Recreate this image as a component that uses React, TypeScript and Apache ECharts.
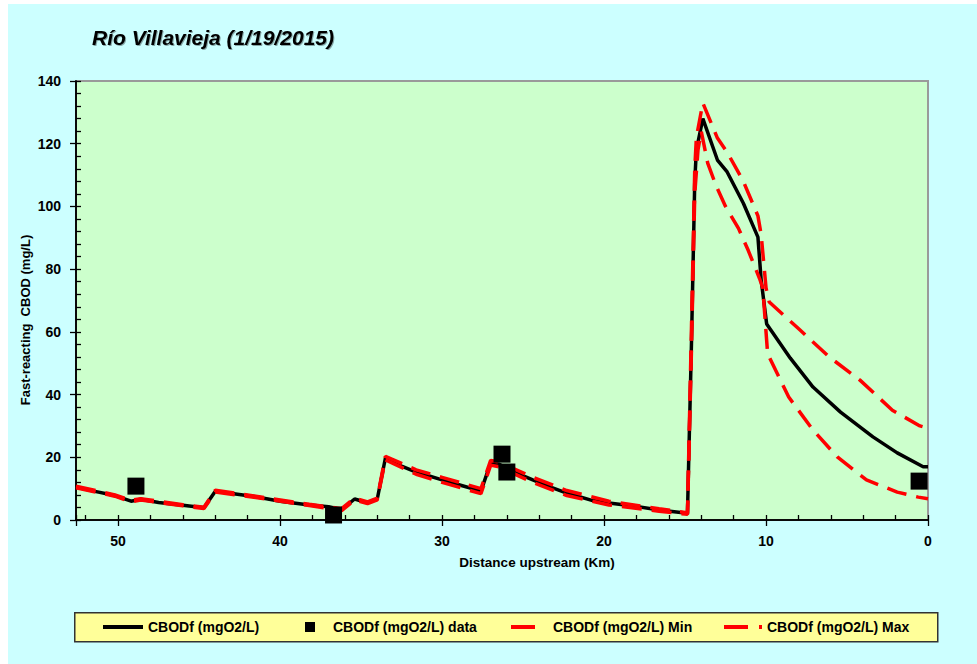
import React, { useEffect, useRef } from "react";
import * as echarts from "echarts";

// Distance upstream (km) and fast-reacting CBOD (mg/L)
const cbodModel: [number, number][] = [
  [52.6, 10.5], [51.5, 9.2], [50.2, 7.8], [49.2, 6.0], [48.6, 6.6], [47.5, 5.6], [46.0, 4.7],
  [44.7, 3.9], [44.0, 9.2], [43.2, 8.6], [41.5, 7.4], [40.0, 6.0], [38.2, 4.8], [37.0, 4.2],
  [36.2, 3.3], [35.4, 6.7], [34.6, 5.5], [34.0, 6.7], [33.5, 19.7], [32.5, 17.2], [31.6, 15.3],
  [30.0, 12.8], [28.8, 11.0], [27.6, 9.2], [27.0, 18.2], [26.5, 17.8], [25.5, 15.2], [24.4, 12.8],
  [23.3, 10.5], [22.3, 8.6], [20.7, 6.2], [19.7, 5.4], [18.2, 4.5], [16.6, 3.2], [15.0, 2.2],
  [14.85, 2.0], [14.6, 57], [14.4, 108], [14.3, 118], [13.9, 128], [13.0, 114.8], [12.4, 111],
  [11.4, 101], [10.5, 90.2], [10.3, 76.5], [9.96, 62.5], [8.5, 51.6], [7.1, 42.4], [5.4, 34.4],
  [3.4, 26.5], [1.9, 21.4], [0.3, 17.0], [0.0, 17.0],
];

const cbodData: [number, number][] = [
  [48.9, 10.8], [36.7, 1.6], [26.3, 21.0], [26.0, 15.3], [0.55, 12.4],
];

const cbodMin: [number, number][] = [
  [52.6, 10.3], [50.2, 7.6], [49.2, 5.8], [48.6, 6.4], [46.0, 4.5], [44.7, 3.7], [44.0, 8.9],
  [41.5, 7.2], [38.2, 4.6], [36.2, 3.0], [35.4, 6.4], [34.6, 5.2], [34.0, 6.4], [33.5, 19.2],
  [31.6, 14.6], [30.0, 12.0], [27.6, 8.4], [27.0, 17.5], [26.5, 17.0], [24.4, 12.0], [22.3, 7.8],
  [19.7, 4.8], [16.6, 2.8], [15.0, 1.9], [14.85, 1.8], [14.6, 55], [14.4, 104], [14.2, 118],
  [14.0, 124], [13.6, 113.8], [13.1, 106.8], [12.5, 100], [11.7, 93], [11.1, 86], [10.4, 77],
  [10.2, 74], [9.9, 53], [8.6, 39.2], [7.1, 28.7], [5.6, 20.1], [3.8, 12.8], [1.9, 8.9],
  [0.6, 7.3], [0.0, 6.8],
];

const cbodMax: [number, number][] = [
  [52.6, 10.8], [50.2, 8.0], [49.2, 6.3], [48.6, 6.8], [46.0, 4.9], [44.7, 4.1], [44.0, 9.5],
  [41.5, 7.6], [38.2, 5.0], [36.2, 3.6], [35.4, 7.0], [34.6, 5.8], [34.0, 7.0], [33.5, 20.3],
  [31.6, 16.0], [30.0, 13.6], [27.6, 10.0], [27.0, 19.0], [26.5, 18.5], [24.4, 13.6], [22.3, 9.4],
  [19.7, 6.0], [16.6, 3.6], [15.0, 2.4], [14.85, 2.2], [14.6, 62], [14.4, 112], [14.3, 122],
  [13.9, 133], [13.0, 121.8], [12.4, 117.3], [11.4, 108], [10.5, 97], [10.3, 91], [10.0, 74],
  [9.8, 69.5], [7.9, 60.6], [6.1, 52], [4.2, 44.6], [2.2, 35], [0.5, 30], [0.0, 29.3],
];

const seriesNames = [
  "CBODf (mgO2/L)",
  "CBODf (mgO2/L) data",
  "CBODf (mgO2/L) Min",
  "CBODf (mgO2/L) Max",
];

const titleText = "Río Villavieja (1/19/2015)";
const xAxisName = "Distance upstream (Km)";
const yAxisName = "Fast-reacting  CBOD (mg/L)";

const FONT = "'Liberation Sans', Arial, sans-serif";

export default function App() {
  const ref = useRef<HTMLDivElement>(null);

  useEffect(() => {
    if (!ref.current) return;
    const chart = echarts.init(ref.current, undefined, { renderer: "svg" });
    const xMin = 0;
    const xMax = 52.6;
    const legendText = {
      color: "#000",
      fontFamily: FONT,
      fontWeight: "bold" as const,
      fontSize: 14,
    };
    const legendBase = {
      orient: "horizontal" as const,
      top: 616,
      padding: 0,
      itemGap: 0,
      selectedMode: false,
      itemStyle: { borderWidth: 0 },
    };
    const tickStyle = { color: "#000", width: 1.3 };
    chart.setOption({
      animation: false,
      backgroundColor: "#CCFFFF",
      textStyle: { fontFamily: FONT },
      title: {
        text: titleText,
        left: 84,
        top: 23,
        padding: 0,
        textStyle: {
          fontFamily: FONT,
          fontSize: 21,
          fontWeight: "bold",
          fontStyle: "italic",
          color: "#000",
          textShadowColor: "rgba(0,0,0,0.35)",
          textShadowOffsetX: 1,
          textShadowOffsetY: 1,
          textShadowBlur: 1,
        },
      },
      grid: {
        left: 68,
        top: 77,
        right: 49,
        bottom: 144,
        show: true,
        z: -1,
        backgroundColor: "#CCFFCC",
        borderColor: "#9a9a9a",
        borderWidth: 2,
      },
      xAxis: [
        {
          type: "value",
          inverse: true,
          min: xMin,
          max: xMax,
          interval: 10,
          position: "bottom",
          z: 3,
          axisLine: { show: true, onZero: false, lineStyle: { color: "#000", width: 1.5 } },
          axisTick: { show: true, inside: false, length: 6, lineStyle: tickStyle },
          axisLabel: {
            color: "#000",
            fontFamily: FONT,
            fontWeight: "bold",
            fontSize: 14,
            margin: 14,
            formatter: (v: number) => (Math.abs(v % 10) < 1e-9 ? String(v) : ""),
          },
          splitLine: { show: false },
        },
        {
          type: "value",
          inverse: true,
          min: xMin,
          max: xMax,
          interval: 2,
          position: "bottom",
          offset: 0,
          z: 3,
          axisLine: { show: true, onZero: false, lineStyle: { color: "#000", width: 1.5 } },
          axisTick: { show: true, inside: true, length: 5, lineStyle: tickStyle },
          axisLabel: { show: false },
          splitLine: { show: false },
        },
      ],
      yAxis: [
        {
          type: "value",
          min: 0,
          max: 140,
          interval: 20,
          position: "left",
          z: 3,
          axisLine: { show: true, onZero: false, lineStyle: { color: "#000", width: 1.5 } },
          axisTick: { show: true, inside: false, length: 6, lineStyle: tickStyle },
          axisLabel: {
            color: "#000",
            fontFamily: FONT,
            fontWeight: "bold",
            fontSize: 14,
            margin: 15,
          },
          splitLine: { show: false },
        },
        {
          type: "value",
          min: 0,
          max: 140,
          interval: 4,
          position: "left",
          offset: 0,
          z: 3,
          axisLine: { show: true, onZero: false, lineStyle: { color: "#000", width: 1.5 } },
          axisTick: { show: true, inside: true, length: 5, lineStyle: tickStyle },
          axisLabel: { show: false },
          splitLine: { show: false },
        },
      ],
      legend: [
        {
          ...legendBase,
          left: 95,
          itemWidth: 40,
          itemHeight: 4,
          data: [{ name: seriesNames[0], icon: "rect" }],
          textStyle: { ...legendText },
        },
        {
          ...legendBase,
          left: 297,
          itemWidth: 10,
          itemHeight: 10,
          data: [{ name: seriesNames[1], icon: "rect" }],
          textStyle: { ...legendText, padding: [0, 0, 0, 13] },
        },
        {
          ...legendBase,
          left: 503,
          itemWidth: 24,
          itemHeight: 4,
          data: [{ name: seriesNames[2], icon: "rect" }],
          textStyle: { ...legendText, padding: [0, 0, 0, 13] },
        },
        {
          ...legendBase,
          left: 716,
          itemWidth: 38,
          itemHeight: 4,
          data: [{ name: seriesNames[3], icon: "path://M0,0h24v4h-24zM35,0h3v4h-3z" }],
          textStyle: { ...legendText },
        },
      ],
      graphic: [
        {
          type: "rect",
          left: 66,
          top: 608,
          z: -10,
          shape: { width: 863, height: 29 },
          style: { fill: "#FFFF99", stroke: "#333", lineWidth: 1.5 },
        },
        {
          type: "text",
          x: 529,
          y: 558,
          style: {
            text: xAxisName,
            fill: "#000",
            font: `bold 13.5px ${FONT}`,
            textAlign: "center",
            textVerticalAlign: "middle",
          },
        },
        {
          type: "text",
          x: 17,
          y: 316,
          rotation: Math.PI / 2,
          style: {
            text: yAxisName,
            fill: "#000",
            font: `bold 13px ${FONT}`,
            textAlign: "center",
            textVerticalAlign: "middle",
          },
        },
      ],
      series: [
        {
          name: "minor-ticks",
          type: "line",
          xAxisIndex: 1,
          yAxisIndex: 1,
          data: [],
          showSymbol: false,
          silent: true,
        },
        {
          name: seriesNames[0],
          type: "line",
          xAxisIndex: 0,
          yAxisIndex: 0,
          data: cbodModel,
          color: "#000",
          showSymbol: false,
          symbol: "none",
          lineStyle: { color: "#000", width: 3.5 },
          z: 4,
        },
        {
          name: seriesNames[1],
          type: "scatter",
          xAxisIndex: 0,
          yAxisIndex: 0,
          data: cbodData,
          color: "#000",
          symbol: "rect",
          symbolSize: 17,
          itemStyle: { color: "#000", opacity: 1 },
          z: 7,
        },
        {
          name: seriesNames[2],
          type: "line",
          xAxisIndex: 0,
          yAxisIndex: 0,
          data: cbodMin,
          color: "#FF0000",
          showSymbol: false,
          symbol: "none",
          lineStyle: { color: "#FF0000", width: 3.5, type: [20, 10] },
          z: 5,
        },
        {
          name: seriesNames[3],
          type: "line",
          xAxisIndex: 0,
          yAxisIndex: 0,
          data: cbodMax,
          color: "#FF0000",
          showSymbol: false,
          symbol: "none",
          lineStyle: { color: "#FF0000", width: 3.5, type: [20, 10] },
          z: 5,
        },
      ],
    });
    return () => chart.dispose();
  }, []);

  return (
    <div style={{ position: "absolute", left: 0, top: 0, width: 977, height: 664, background: "#fff" }}>
      <div ref={ref} style={{ position: "absolute", left: 8, top: 4, width: 969, height: 660 }} />
    </div>
  );
}
